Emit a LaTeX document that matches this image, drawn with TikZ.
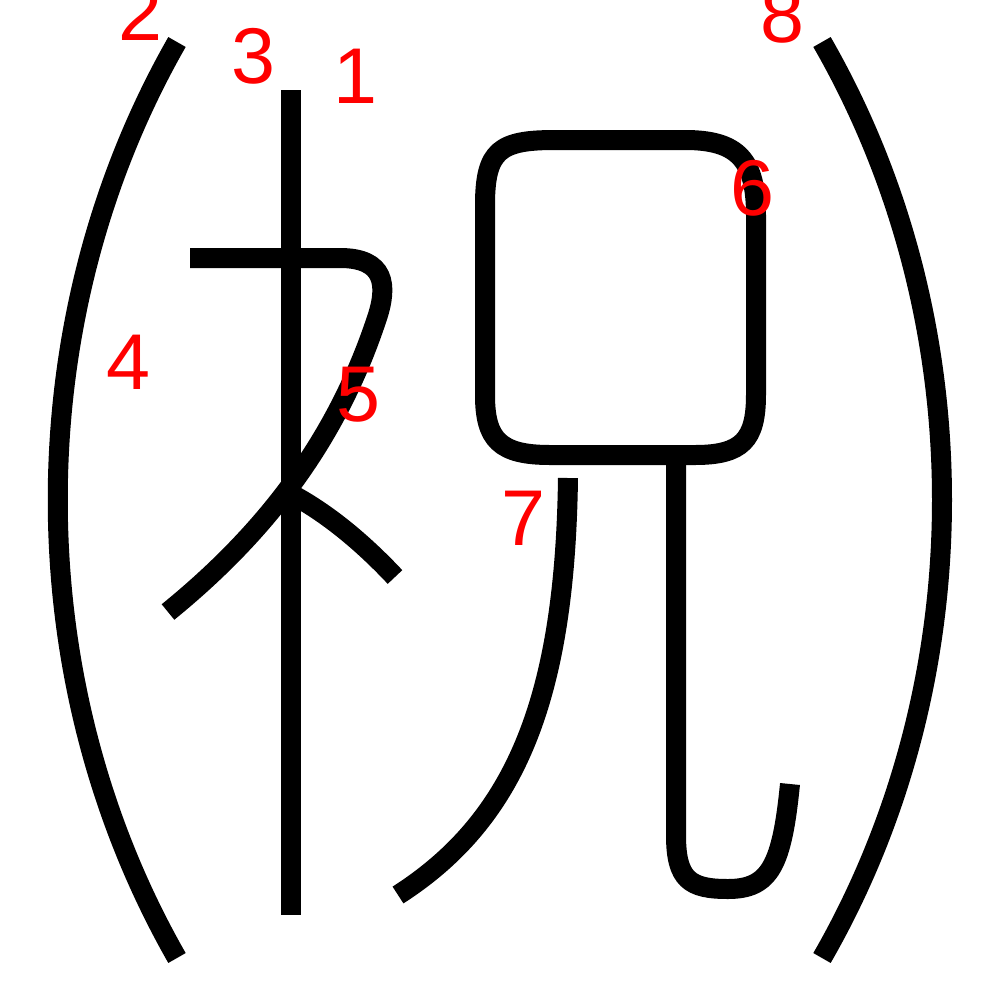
\documentclass[tikz,border=0pt]{standalone}
\usepackage{fontspec}
\setmainfont{Liberation Sans}
\usetikzlibrary{positioning}

\begin{document}
\begin{tikzpicture}[x=0.1mm,y=-0.1mm]
\tikzstyle{stroke}=[draw=black,line width=2mm]
\tikzstyle{num}=[text=red,inner sep=0pt,font=\fontsize{22.5}{24}\selectfont]
\useasboundingbox (0,0) rectangle (1000,1000);
% brackets
\draw[stroke] (177,42) .. controls (18,320) and (18,680) .. (177,958);
\draw[stroke] (822,42) .. controls (982,320) and (982,680) .. (822,958);
% tree part
\draw[stroke] (291,90) -- (291,915);
\draw[stroke] (190,258) -- (340,258) .. controls (385,258) and (388,285) .. (377,318) .. controls (340,430) and (275,525) .. (168,612);
\draw[stroke] (293,495) .. controls (330,515) and (365,545) .. (395,577);
% mouth and legs
\draw[stroke] (485,205) -- (485,395) .. controls (485,440) and (500,455) .. (550,455) -- (695,455) .. controls (742,455) and (756,440) .. (756,395) -- (756,215) .. controls (756,160) and (738,140) .. (685,140) -- (555,140) .. controls (500,140) and (485,150) .. (485,205) -- cycle;
\draw[stroke] (568,478) .. controls (565,700) and (515,820) .. (398,895);
\draw[stroke] (676,455) -- (676,835) .. controls (676,880) and (690,889) .. (728,889) .. controls (770,889) and (782,865) .. (790,784);
% numbers
\node[num] (n1) at (355,76) {1};
\node[num] (n2) at (140,13) {2};
\node[num] (n3) at (253,56) {3};
\node[num] (n4) at (128,362) {4};
\node[num] (n5) at (358,395) {5};
\node[num] (n6) at (752,188) {6};
\node[num] (n7) at (523,518) {7};
\node[num] (n8) at (782,15) {8};
\end{tikzpicture}
\end{document}
